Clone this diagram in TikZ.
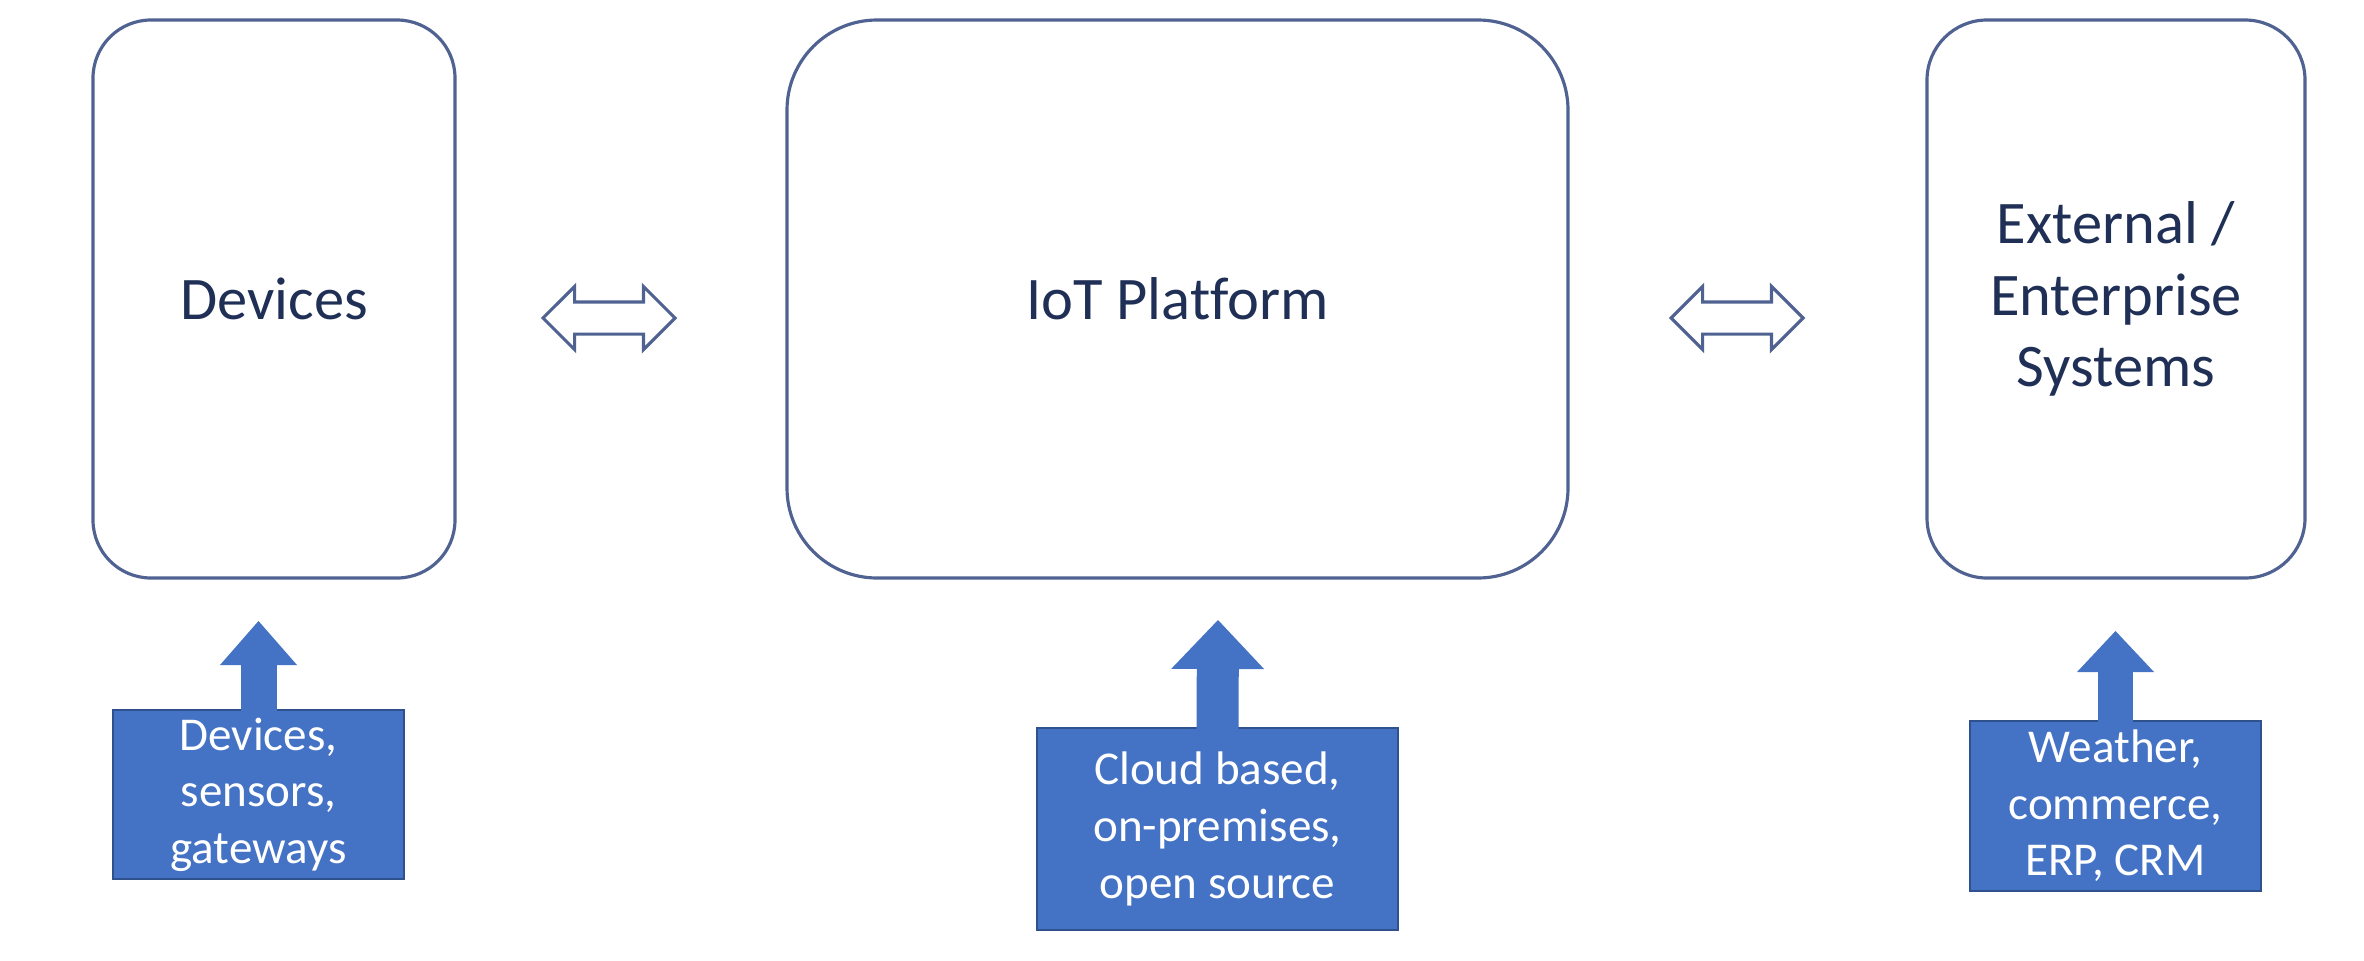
\documentclass[tikz,border=0pt]{standalone}
\usepackage{fontspec}
\setmainfont{Carlito}[Ligatures=NoCommon]
\usepackage{tikz}
\usetikzlibrary{positioning,arrows.meta,shapes.arrows,calc}

\definecolor{edgeblue}{HTML}{4F6291}
\definecolor{textnavy}{HTML}{1F2F55}
\definecolor{fillblue}{HTML}{4472C4}
\definecolor{darkblue}{HTML}{2F528F}

\tikzstyle{block}  = [rectangle, draw=edgeblue, line width=0.9pt, fill=white, text=textnavy, align=center, font=\fontsize{17.2}{20.4}\selectfont, minimum height=5.58cm, inner sep=0pt]
\tikzstyle{note}   = [rectangle, draw=darkblue, line width=0.6pt, fill=fillblue, text=white, align=center, font=\fontsize{13.4}{16.1}\selectfont, inner sep=0pt]
\tikzstyle{swap}   = [double arrow, draw=edgeblue, line width=0.9pt, fill=white, inner sep=0pt, inner ysep=0.145cm, minimum height=1.32cm, minimum width=0.60cm, double arrow head extend=0.155cm]
\tikzset{lift/.style n args={3}{draw=fillblue, line width=#1, shorten <=-0.8pt, -{Triangle[width=#2, length=#3, line width=0pt]}}}

\begin{document}
\begin{tikzpicture}[]
		\useasboundingbox (0,0) rectangle (23.64,9.6);

		% the three systems
		\node[block, minimum width=3.62cm, rounded corners=0.58cm] (dev) at (2.74,6.61) {Devices};
		\node[block, minimum width=7.81cm, rounded corners=0.9cm] (iot) at (11.775,6.61) {IoT Platform};
		\node[block, minimum width=3.78cm, rounded corners=0.6cm] (ext) at (21.16,6.61) {External /\\Enterprise\\Systems};

		\node[swap] (a1) at (6.09,6.42) {};
		\node[swap] (a2) at (17.37,6.42) {};

		% notes below
		\node[note, minimum width=2.91cm, minimum height=1.69cm] (n1) at (2.585,1.655) {Devices,\\sensors,\\gateways};
		\node[note, minimum width=3.61cm, minimum height=2.02cm] (n2) at (12.175,1.31) {Cloud based,\\on-premises,\\open source};
		\node[note, minimum width=2.91cm, minimum height=1.70cm] (n3) at (21.155,1.54) {Weather,\\commerce,\\ERP, CRM};

		\coordinate (t1) at (2.585,3.39);
		\coordinate (t2) at (12.18,3.40);
		\coordinate (t3) at (21.155,3.29);

		\draw[lift={0.36cm}{0.77cm}{0.44cm}] (n1.north) -- (t1);
		\draw[lift={0.42cm}{0.93cm}{0.49cm}] (n2.north) -- (t2);
		\draw[lift={0.35cm}{0.77cm}{0.41cm}] (n3.north) -- (t3);
	\end{tikzpicture}
\end{document}
